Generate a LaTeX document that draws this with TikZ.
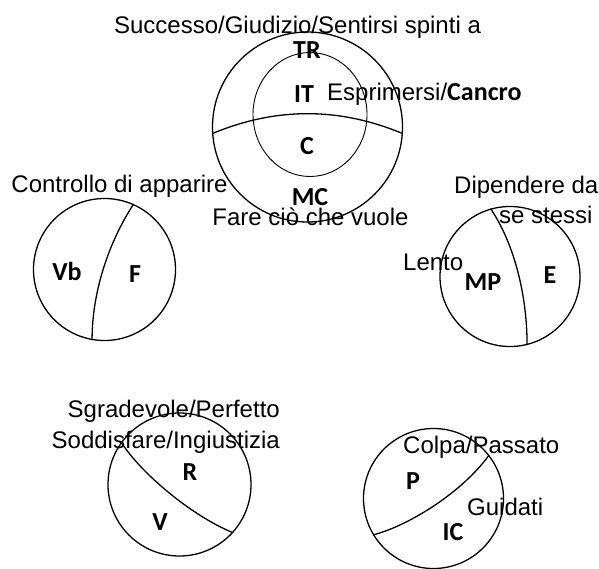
\documentclass[tikz,border=0pt]{standalone}
\usepackage{fontspec}
\setmainfont{Liberation Sans}
\newfontfamily\tagfont{Carlito}
\usetikzlibrary{shapes.geometric}
\begin{document}
\begin{tikzpicture}[x=1pt,y=-1pt,
  ring/.style={draw, circle, inner sep=0pt, line width=1.3pt},
  innerring/.style={draw, ellipse, inner sep=0pt, line width=0.9pt},
  split/.style={line width=1.3pt},
  tag/.style={font=\tagfont\fontsize{26}{26}\selectfont\bfseries, inner sep=0pt, anchor=base},
  note/.style={font=\fontsize{24}{24}\selectfont, inner sep=0pt, anchor=base}]
\path[use as bounding box] (0,0) rectangle (599,568);

% top circle with inner ring
\node[ring, minimum size=190pt] (top) at (307.5,127) {};
\node[innerring, minimum width=114pt, minimum height=124pt] (topin) at (310,114.5) {};
\draw[split] (top.184.2) .. controls (276,107) and (339,107) .. (top.-4.2);
\node[note] (tTitle) at (297.5,33) {Successo/Giudizio/Sentirsi spinti a};
\node[tag] (tTR) at (307,58) {TR};
\node[tag] (tIT) at (304,102) {IT};
\node[note, anchor=base west] (tExp) at (327,100) {Esprimersi/{\tagfont\fontsize{26}{26}\selectfont\bfseries Cancro}};
\node[tag] (tC) at (307,154) {C};
\node[tag] (tMC) at (310,205) {MC};
\node[note] (tFare) at (310.5,225) {Fare ciò che vuole};

% left circle
\node[ring, minimum size=142pt] (left) at (104.5,269.5) {};
\draw[split] (left.66.9) .. controls (110,240) and (92,290) .. (left.-100.3);
\node[note] (lCtrl) at (119.5,192) {Controllo di apparire};
\node[tag] (lVb) at (67,280) {Vb};
\node[tag] (lF) at (135,282) {F};

% right circle
\node[ring, minimum size=140pt] (right) at (510,276.5) {};
\draw[split] (right.106) .. controls (512,240) and (527,290) .. (right.-76.3);
\node[note, anchor=base west] (rDip) at (454,193) {Dipendere da};
\node[note, anchor=base west] (rSe) at (499,223) {se stessi};
\node[note, anchor=base west] (rLento) at (403,270) {Lento};
\node[tag] (rMP) at (483,290) {MP};
\node[tag] (rE) at (550,283) {E};

% lower left circle
\node[ring, minimum size=143pt] (lowl) at (179.5,484.5) {};
\draw[split] (lowl.144.6) .. controls (140,472) and (190,515) .. (lowl.-42.2);
\node[note, anchor=base east] (lSgr) at (280,417) {Sgradevole/Perfetto};
\node[note, anchor=base east] (lSod) at (280,448) {Soddisfare/Ingiustizia};
\node[tag] (lR) at (190,480) {R};
\node[tag] (lV) at (160,530) {V};

% lower right circle
\node[ring, minimum size=140pt] (lowr) at (433.5,498.5) {};
\draw[split] (lowr.211.2) .. controls (405,527) and (460,495) .. (lowr.38.6);
\node[note, anchor=base west] (rColpa) at (403,453) {Colpa/Passato};
\node[note, anchor=base west] (rGui) at (467,515) {Guidati};
\node[tag] (rP) at (413,489) {P};
\node[tag] (rIC) at (453,540) {IC};
\end{tikzpicture}
\end{document}
